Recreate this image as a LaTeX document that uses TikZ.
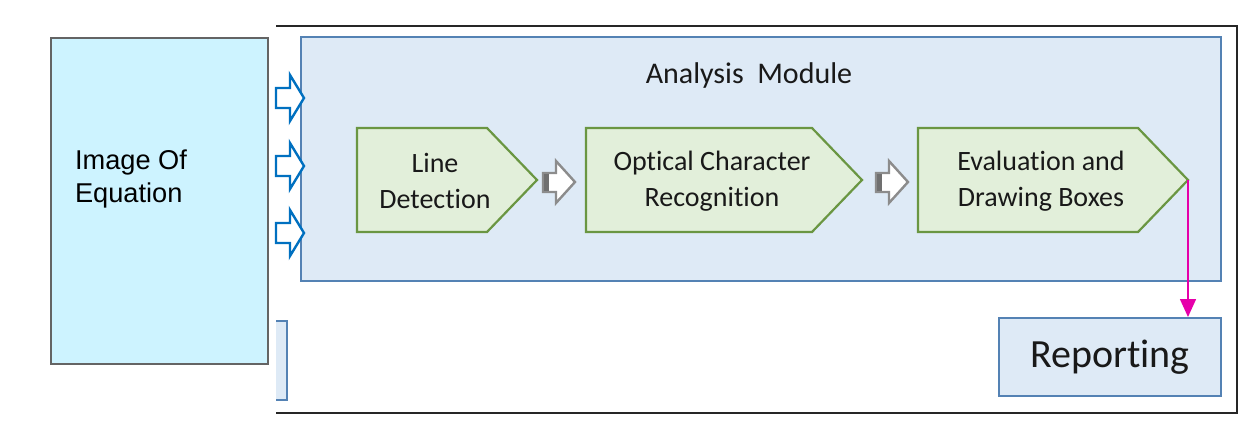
\documentclass[tikz,border=0pt]{standalone}
\usepackage{fontspec}
\setmainfont{Carlito}[Ligatures=NoCommon]
\newfontfamily\robo{Liberation Sans}
\usetikzlibrary{arrows.meta}
\definecolor{modfill}{RGB}{222,234,246}
\definecolor{modline}{RGB}{84,130,180}
\definecolor{imgfill}{RGB}{205,243,255}
\definecolor{imgline}{RGB}{100,100,100}
\definecolor{chfill}{RGB}{226,239,218}
\definecolor{chline}{RGB}{106,150,66}
\definecolor{barrow}{RGB}{0,112,192}
\definecolor{garrow}{RGB}{140,140,140}
\definecolor{magline}{RGB}{230,0,170}
\tikzset{
  chev/.style={fill=chfill, draw=chline, line width=1.1pt, line join=miter},
  chtext/.style={align=center, font=\fontsize{14}{18}\selectfont, text=black!90},
  bluearrow/.style={fill=white, draw=barrow, line width=1.2pt},
  grayarrow/.style={fill=white, draw=garrow, line width=1.2pt},
  modbox/.style={fill=modfill, draw=modline, line width=1pt},
}
\begin{document}
\begin{tikzpicture}[x=0.5pt, y=-0.5pt]
\useasboundingbox (0,0) rectangle (1254,430);
% outer frame
\draw[line width=1.3pt, black!85] (276,26) -- (1237,26) -- (1237,413) -- (276,413);
% analysis module
\draw[modbox] (301,37) rectangle (1221,281);
\node[font=\fontsize{15}{18}\selectfont, text=black!90] (modtitle) at (749,75) {Analysis\ \ Module};
% image of equation
\draw[fill=imgfill, draw=imgline, line width=0.7pt] (51,38) rectangle (268,364);
\node[anchor=west, align=left, font=\robo\fontsize{13.6}{16.5}\selectfont] (img) at (68,179) {Image Of\\Equation};
% partial box bottom-left
\fill[modfill] (276,321) rectangle (287,400);
\draw[modline, line width=1pt] (276,321) -| (287,400) -- (276,400);
% blue arrows
\foreach \ty/\n in {98/a1,166/a2,233/a3}{
  \draw[bluearrow] (276,\ty-10) -- (290,\ty-10) -- (290,\ty-23) -- (304,\ty) -- (290,\ty+23) -- (290,\ty+10) -- (276,\ty+10) -- cycle;
  \coordinate (\n) at (304,\ty);
}
% chevrons
\draw[chev] (357,128) -- (487,128) -- (537,180) -- (487,232) -- (357,232) -- cycle;
\coordinate (tip1) at (537,180);
\node[chtext] (c1) at (435,181) {Line\\Detection};
\draw[chev] (586,128) -- (812,128) -- (862,180) -- (812,232) -- (586,232) -- cycle;
\coordinate (tip2) at (862,180);
\node[chtext] (c2) at (712,181) {Optical Character\\Recognition};
\draw[chev] (918,128) -- (1138,128) -- (1188,180) -- (1138,232) -- (918,232) -- cycle;
\coordinate (tip3) at (1188,180);
\node[chtext] (c3) at (1041,181) {Evaluation and\\Drawing Boxes};
% gray arrows
\foreach \x in {543,876}{
  \draw[grayarrow] (\x,173) -- (\x+13,173) -- (\x+13,161) -- (\x+32,182) -- (\x+13,203) -- (\x+13,192) -- (\x,192) -- cycle;
  \fill[garrow!80!black] (\x+0.8,174) rectangle (\x+6,191);
}
% reporting
\node[draw=modline, fill=modfill, line width=1pt, minimum width=111pt, minimum height=39pt, font=\fontsize{20}{22}\selectfont, text=black!90] (rep) at (1110,357) {Reporting};
% magenta arrow
\draw[magline, line width=0.8pt, -{Triangle[length=9pt,width=8pt]}] (tip3) -- (tip3 |- rep.north);
\end{tikzpicture}
\end{document}
